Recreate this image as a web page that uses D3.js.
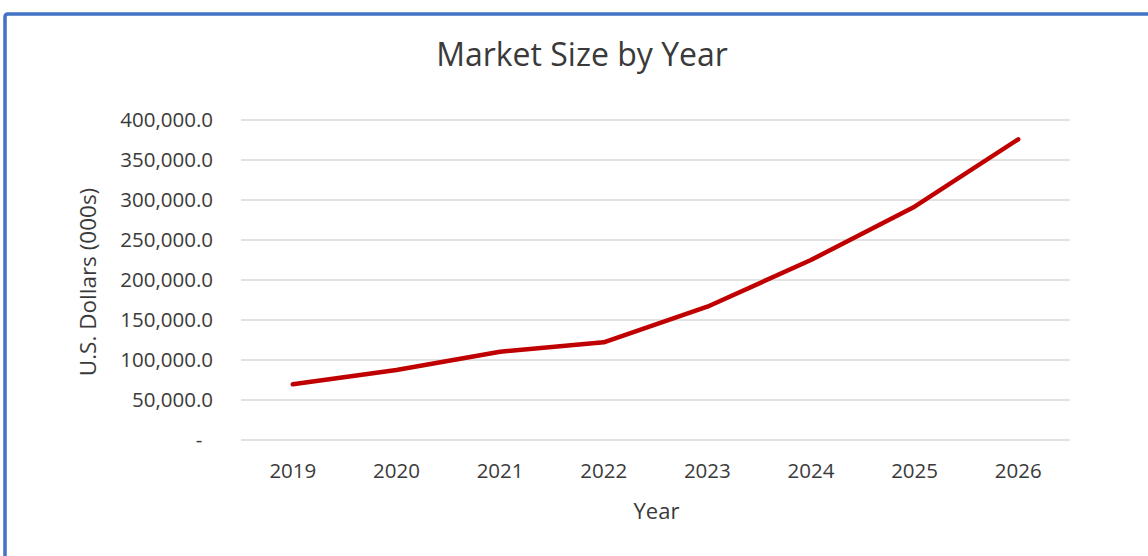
<!DOCTYPE html>
<html>
<head>
<meta charset="utf-8">
<script src="https://cdn.jsdelivr.net/npm/d3@7"></script>
<style>
  html, body { margin: 0; padding: 0; background: #fff; }
  svg { display: block; font-family: "Open Sans", "Noto Sans", sans-serif; }
</style>
</head>
<body>
<div id="chart"></div>
<script>
// Market size line chart.
const years = ["2019", "2020", "2021", "2022", "2023", "2024", "2025", "2026"];
const marketSize = [69600, 87500, 110400, 122100, 166600, 225000, 291600, 375900];
const yTicks = [0, 50000, 100000, 150000, 200000, 250000, 300000, 350000, 400000];

const W = 1148, H = 556;
const M = { top: 120, right: 78, bottom: 116, left: 241 };

const svg = d3.select("#chart").append("svg")
  .attr("width", W).attr("height", H).attr("viewBox", [0, 0, W, H]);

// frame of the embedded chart object
svg.append("path")
  .attr("d", `M5,${H + 5} V17 Q5,14 8,14 H${W + 5}`)
  .attr("fill", "none")
  .attr("stroke", "#4472C4")
  .attr("stroke-width", 3.5);

const x = d3.scaleBand().domain(years).range([M.left, W - M.right]);
const y = d3.scaleLinear().domain([0, 400000]).range([H - M.bottom, M.top]);

const fmt = d3.format(",.1f");

// gridlines
svg.append("g")
  .selectAll("line")
  .data(yTicks)
  .join("line")
  .attr("x1", M.left).attr("x2", W - M.right)
  .attr("y1", (d) => y(d)).attr("y2", (d) => y(d))
  .attr("stroke", "#d9d9d9")
  .attr("stroke-width", 1.3);

// y axis labels
svg.append("g")
  .attr("transform", `translate(${M.left - 28},0)`)
  .call(d3.axisLeft(y).tickValues(yTicks).tickSize(0).tickPadding(0)
    .tickFormat((d) => (d === 0 ? "-\u00a0\u00a0" : fmt(d))))
  .call((g) => g.select(".domain").remove())
  .call((g) => g.selectAll("text")
    .attr("fill", "#3a3a3a")
    .style("font-size", "20.5px")
    .style("font-family", "'Open Sans', sans-serif"));

// x axis labels
svg.append("g")
  .attr("transform", `translate(0,${H - M.bottom + 31})`)
  .call(d3.axisBottom(x).tickSize(0).tickPadding(0))
  .call((g) => g.select(".domain").remove())
  .call((g) => g.selectAll("text")
    .attr("fill", "#3a3a3a")
    .attr("dy", "0.35em")
    .style("font-size", "20.5px")
    .style("font-family", "'Open Sans', sans-serif"));

// series line
const line = d3.line()
  .x((d, i) => x(years[i]) + x.bandwidth() / 2)
  .y((d) => y(d));

svg.append("path")
  .datum(marketSize)
  .attr("d", line)
  .attr("fill", "none")
  .attr("stroke", "#C00000")
  .attr("stroke-width", 4.5)
  .attr("stroke-linecap", "round")
  .attr("stroke-linejoin", "round");

// titles
svg.append("text")
  .attr("x", 582).attr("y", 57)
  .attr("text-anchor", "middle")
  .attr("dominant-baseline", "middle")
  .attr("fill", "#3a3a3a")
  .style("font-size", "32px")
  .text("Market Size by Year");

svg.append("text")
  .attr("transform", `translate(90,${(M.top + H - M.bottom) / 2 + 2}) rotate(-90)`)
  .attr("text-anchor", "middle")
  .attr("dominant-baseline", "middle")
  .attr("fill", "#3a3a3a")
  .style("font-size", "22.5px")
  .text("U.S. Dollars (000s)");

svg.append("text")
  .attr("x", (M.left + W - M.right) / 2 + 1).attr("y", 513)
  .attr("text-anchor", "middle")
  .attr("dominant-baseline", "middle")
  .attr("fill", "#3a3a3a")
  .style("font-size", "22px")
  .text("Year");
</script>
</body>
</html>
